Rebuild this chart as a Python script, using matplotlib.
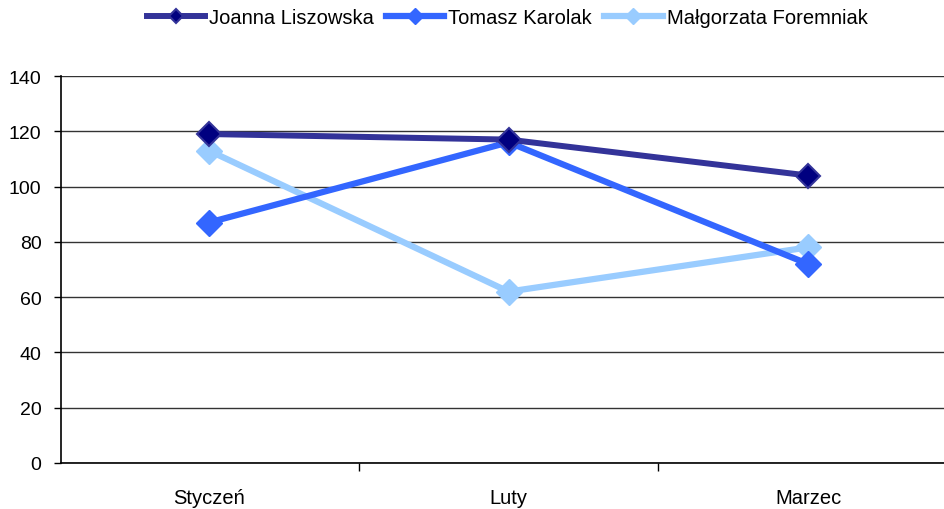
import matplotlib.pyplot as plt

plt.rcParams['font.family'] = ['Liberation Sans', 'DejaVu Sans']

miesiace = ['Styczeń', 'Luty', 'Marzec']
joanna = [119, 117, 104]
tomasz = [87, 116, 72]
malgorzata = [113, 62, 78]

fig = plt.figure(figsize=(9.45, 5.10), dpi=100)
ax = fig.add_axes([61 / 945, 46 / 510, 884 / 945, 387 / 510])

x = list(range(len(miesiace)))
ax.plot(x, joanna, color='#333399', lw=4.3, marker='D', ms=12,
        mfc='#000080', mec='#333399', mew=1.5, label='Joanna Liszowska', zorder=5)
ax.plot(x, tomasz, color='#3366FF', lw=4.5, marker='D', ms=13,
        mfc='#3366FF', mec='#3366FF', label='Tomasz Karolak', zorder=4)
ax.plot(x, malgorzata, color='#99CCFF', lw=4.5, marker='D', ms=13,
        mfc='#99CCFF', mec='#99CCFF', label='Małgorzata Foremniak', zorder=3)

ax.set_yticks(range(0, 141, 20))
ax.set_xticks(x)
ax.set_xticklabels(miesiace)
ax.set_xticks([-0.5, 0.5, 1.5, 2.5], minor=True)
# limity po tickach, bo set_xticks rozszerza zakres
ax.set_xlim(-0.494, 2.457)
ax.set_ylim(0, 140)
ax.tick_params(axis='x', which='major', length=0, pad=18, labelsize=14.5)
ax.tick_params(axis='x', which='minor', length=6, width=1, color='black')
ax.tick_params(axis='y', length=5, width=1, labelsize=14, pad=9)

ax.grid(axis='y', color='#333333', lw=1)
ax.set_axisbelow(True)
for s in ['top', 'right']:
    ax.spines[s].set_visible(False)
for s in ['left', 'bottom']:
    ax.spines[s].set_color('black')
    ax.spines[s].set_linewidth(1.2)

fig.legend(loc='center', bbox_to_anchor=(507 / 945, 1 - 19 / 510), ncol=3,
           frameon=False, fontsize=14.5, handlelength=2.9, handletextpad=0.2,
           columnspacing=0.6, borderaxespad=0, markerscale=0.6)

fig.savefig('out.png', dpi=100)
